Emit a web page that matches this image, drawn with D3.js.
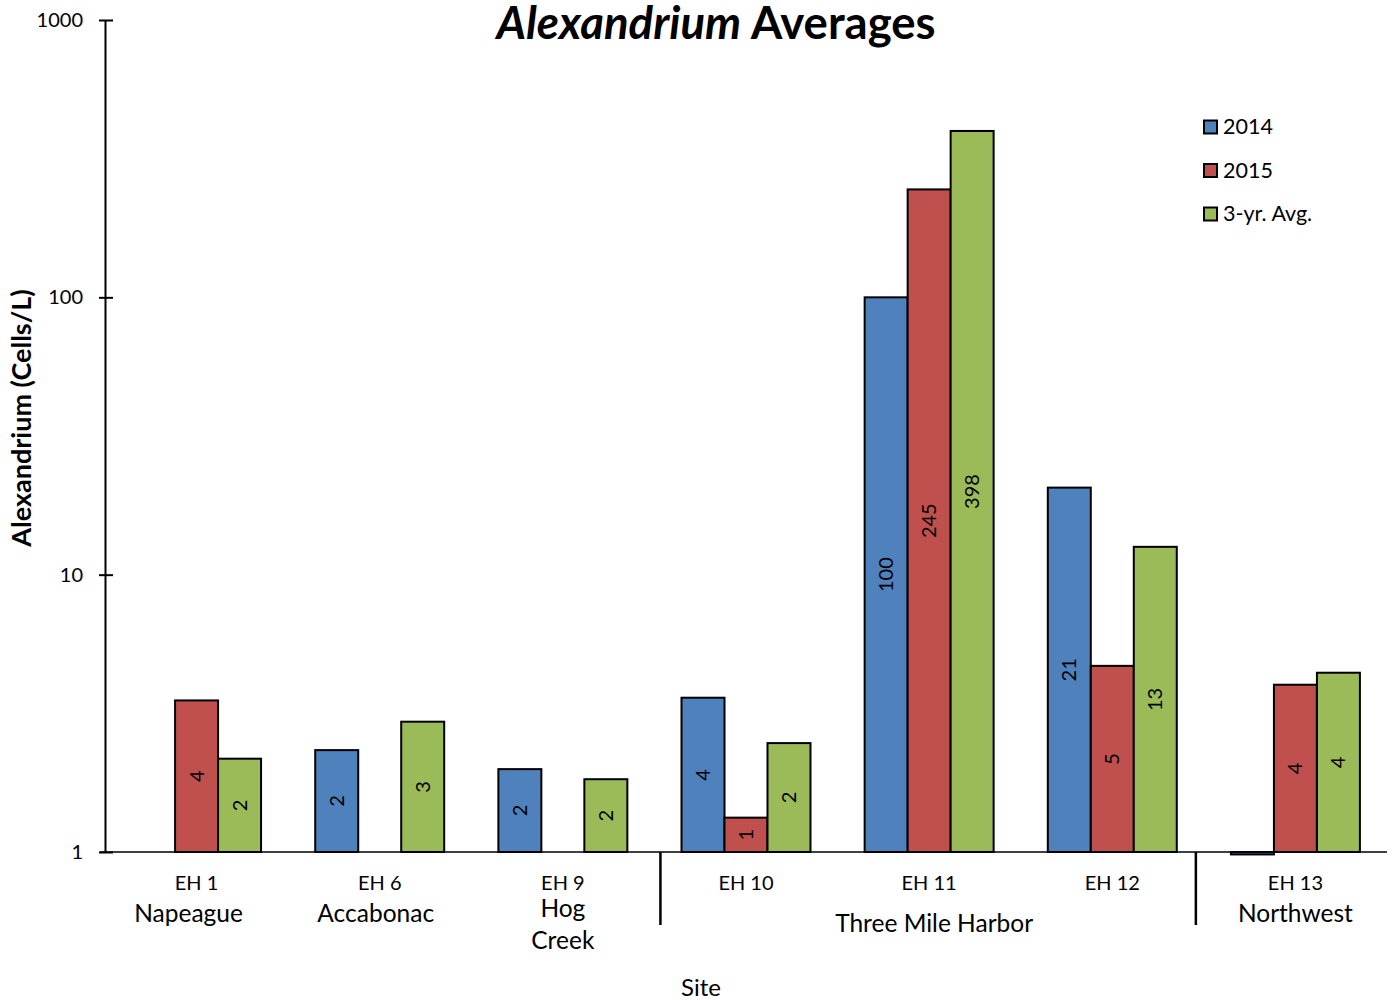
<!DOCTYPE html>
<html><head><meta charset="utf-8">
<script src="https://cdn.jsdelivr.net/npm/d3@7"></script>
<style>body{margin:0;background:#fff}svg{display:block;font-family:Lato,"Open Sans",sans-serif}</style>
</head><body><svg id="c" width="1397" height="1000"></svg>
<script>
const sites = ["EH 1","EH 6","EH 9","EH 10","EH 11","EH 12","EH 13"];
const siteNames = [["Napeague"],["Accabonac"],["Hog","Creek"],[],[],[],["Northwest"]];
const seriesNames = ["2014","2015","3-yr. Avg."];
const colors = ["#4F81BD","#C0504D","#9BBB59"];
const v2014 = [null, 2.33, 1.99, 3.6, 100, 20.6, 0.98];
const v2015 = [3.52, null, null, 1.33, 245, 4.69, 4.01];
const vAvg  = [2.17, 2.95, 1.83, 2.47, 398, 12.6, 4.43];
const yTicks = [1, 10, 100, 1000];
const harborGroup = {label: "Three Mile Harbor", from: "EH 10", to: "EH 12"};

const svg = d3.select("#c");
const L = 105, R = 1387, T = 20, B = 852;
const x = d3.scaleBand().domain(sites).range([L, R]).padding(0);
const xi = d3.scaleBand().domain(seriesNames).range([0, x.bandwidth()]).paddingInner(0).paddingOuter(0.63);
const y = d3.scaleLog().domain([1, 1000]).range([B, T]);
const series = [v2014, v2015, vAvg];

// bars
series.forEach((vals, si) => {
  const g = svg.append("g");
  vals.forEach((v, i) => {
    if (v == null) return;
    const x0 = x(sites[i]) + xi(seriesNames[si]);
    const y0 = Math.min(y(v), y(1)), h = Math.abs(y(v) - y(1));
    g.append("rect").attr("x", x0).attr("y", y0).attr("width", xi.bandwidth()).attr("height", Math.max(h, 0.5))
      .attr("fill", colors[si]).attr("stroke", "#000").attr("stroke-width", 2);
    if (v >= 1) {
      const cx = x0 + xi.bandwidth() / 2, cy = (y(v) + y(1)) / 2;
      g.append("text").attr("transform", `translate(${cx + 7},${cy}) rotate(-90)`)
        .attr("text-anchor", "middle").attr("font-size", 20).attr("fill", "#000")
        .text(d3.format(".0f")(v));
    }
  });
});

// y axis
const ya = svg.append("g").attr("transform", `translate(${L},0)`)
  .call(d3.axisLeft(y).tickValues(yTicks).tickFormat(d3.format("d")).tickSize(0).tickPadding(22));
ya.select(".domain").attr("stroke", "#000").attr("stroke-width", 2);
ya.selectAll("text").attr("font-size", 20).attr("font-family", "Lato,sans-serif").attr("fill", "#000");
ya.selectAll(".tick").append("line").attr("x1", -6).attr("x2", 8).attr("stroke", "#000").attr("stroke-width", 2);

// x axis line
svg.append("line").attr("x1", L - 5).attr("x2", R).attr("y1", B).attr("y2", B).attr("stroke", "#000").attr("stroke-width", 1.5);

// separators
[["EH 9", 6],["EH 12", -8]].forEach(([a, off]) => {
  const sx = x(a) + x.bandwidth() + off;
  svg.append("line").attr("x1", sx).attr("x2", sx).attr("y1", B).attr("y2", 925).attr("stroke", "#000").attr("stroke-width", 2.5);
});

// category labels
sites.forEach((s, i) => {
  const cx = x(s) + x.bandwidth() / 2;
  svg.append("text").attr("x", cx).attr("y", 890).attr("text-anchor", "middle").attr("font-size", 20).text(s);
  const names = siteNames[i];
  const ys = names.length === 2 ? [917, 949] : [922];
  names.forEach((n, k) => {
    svg.append("text").attr("x", cx - (i === 0 ? 8 : i === 1 ? 4 : 0)).attr("y", ys[k]).attr("text-anchor", "middle").attr("font-size", 24.5).text(n);
  });
});
{
  const hx = (x(harborGroup.from) + x(harborGroup.to) + x.bandwidth()) / 2 + 5;
  svg.append("text").attr("x", hx).attr("y", 932).attr("text-anchor", "middle").attr("font-size", 24.5).text(harborGroup.label);
}

// axis titles
svg.append("text").attr("x", 701).attr("y", 996).attr("text-anchor", "middle").attr("font-size", 24).text("Site");
svg.append("text").attr("transform", "translate(31,418) rotate(-90)").attr("text-anchor", "middle")
  .attr("font-size", 27).attr("font-weight", "bold").text("Alexandrium (Cells/L)");

// title
const t = svg.append("text").attr("x", 716).attr("y", 39).attr("text-anchor", "middle").attr("font-size", 45.5).attr("font-weight", "bold");
t.append("tspan").attr("font-style", "italic").text("Alexandrium");
t.append("tspan").text(" Averages");

// legend
seriesNames.forEach((n, i) => {
  const ly = 127 + i * 43.5;
  svg.append("rect").attr("x", 1204).attr("y", ly - 6.5).attr("width", 13).attr("height", 13)
    .attr("fill", colors[i]).attr("stroke", "#000").attr("stroke-width", 2);
  svg.append("text").attr("x", 1223).attr("y", ly + 7).attr("font-size", 21.5).text(n);
});
</script></body></html>
